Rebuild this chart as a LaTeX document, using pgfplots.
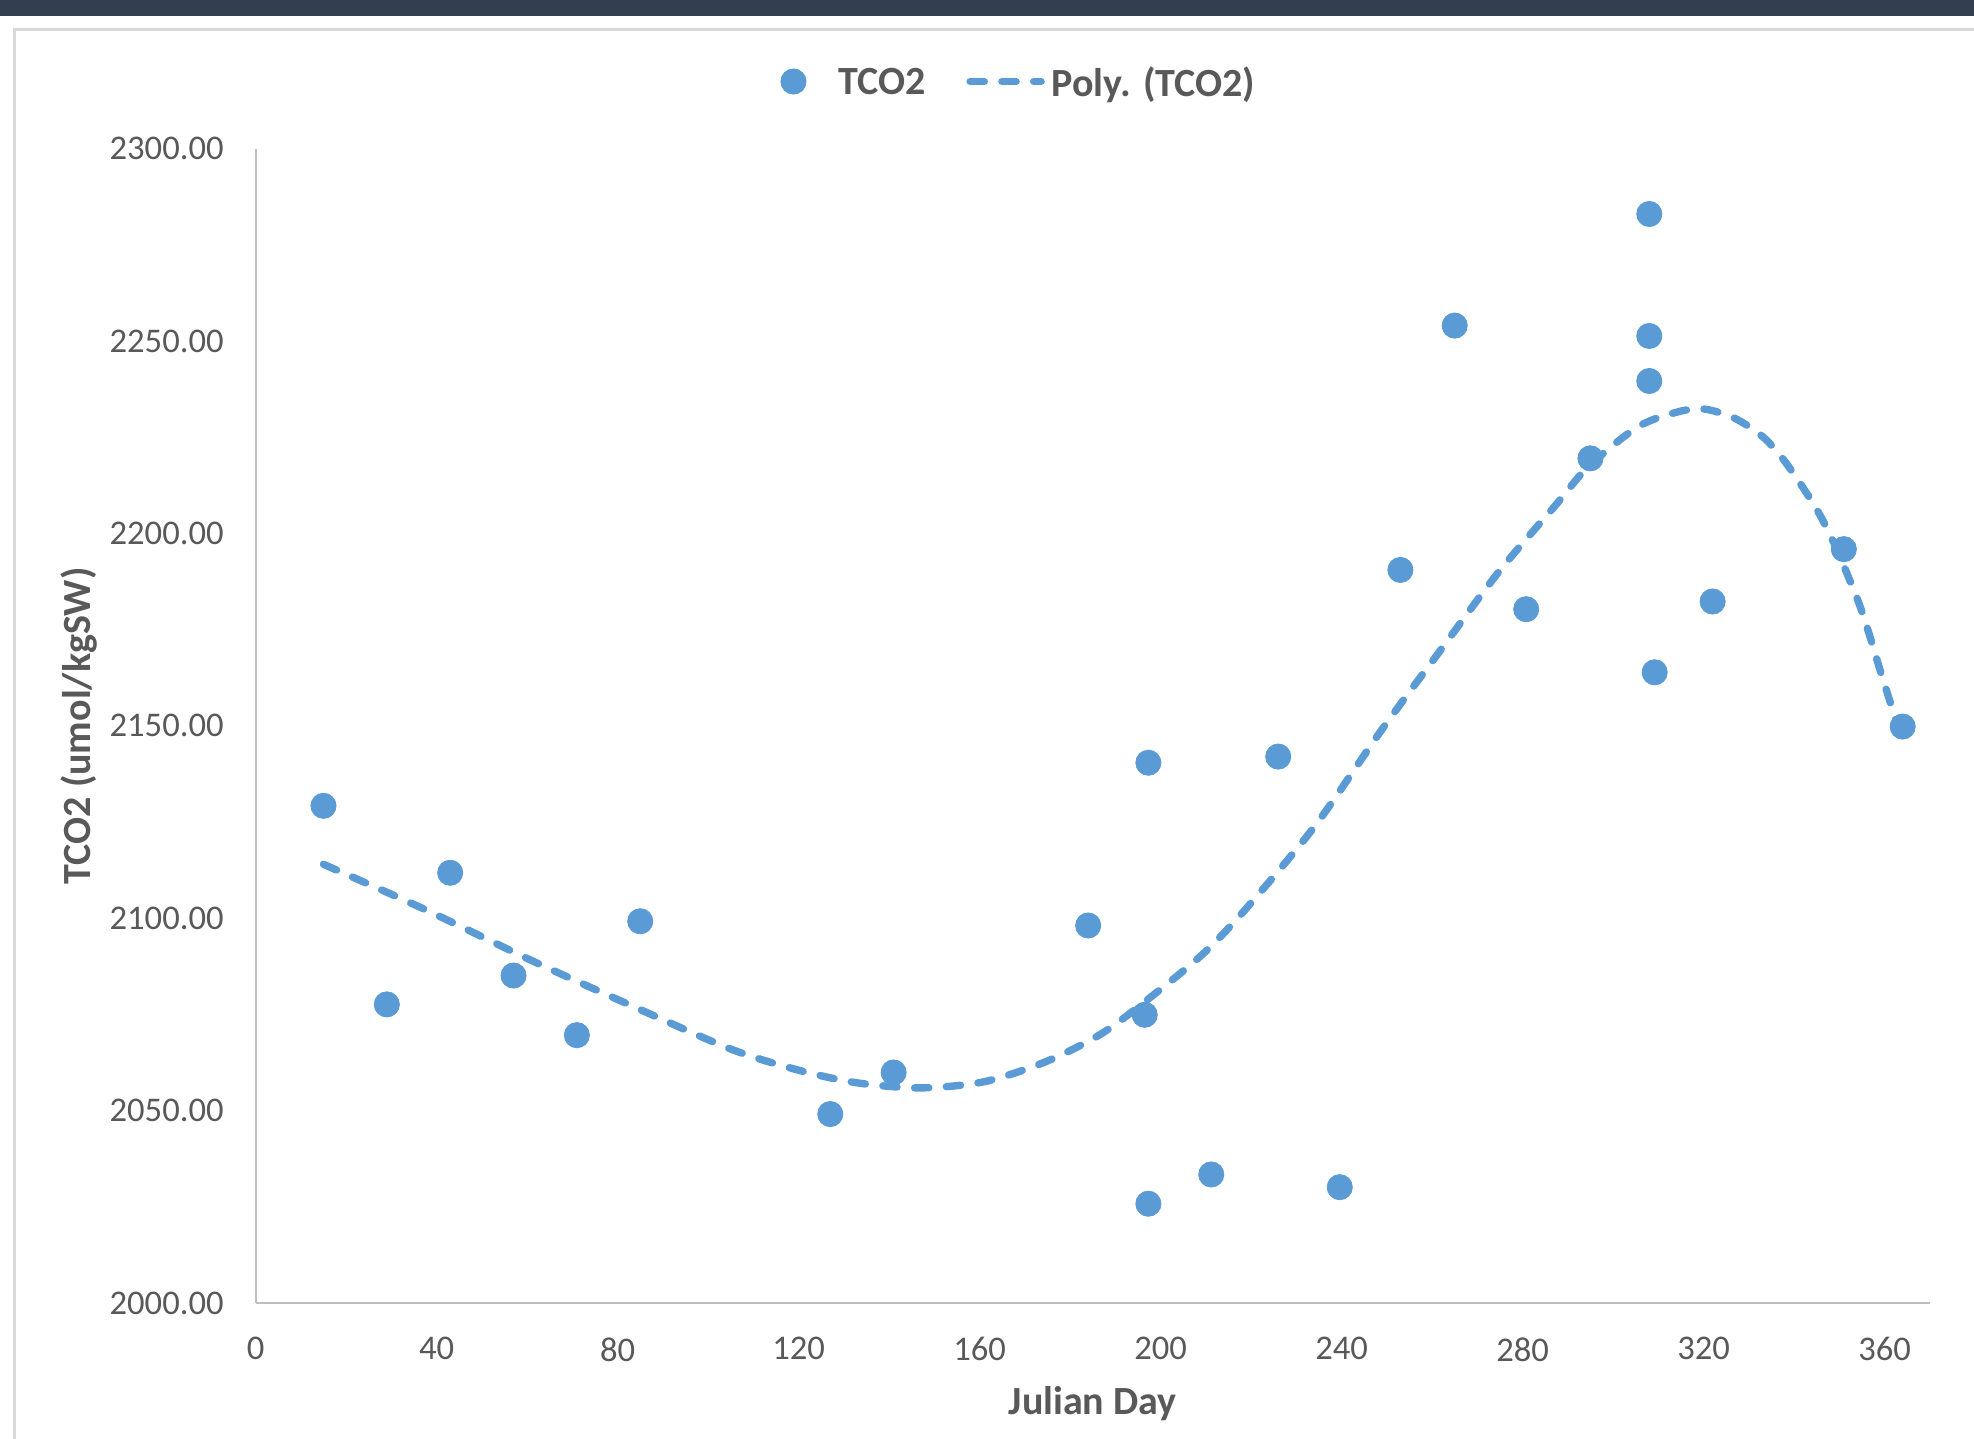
\documentclass[border=0pt]{standalone}
\usepackage{pgfplots}
\pgfplotsset{compat=1.18}
\usepackage{fontspec}
\setmainfont{Carlito}
\definecolor{bl}{HTML}{5B9BD5}
\definecolor{tx}{HTML}{595959}
\definecolor{ban}{HTML}{333E50}
\definecolor{axc}{HTML}{BFBFBF}
\definecolor{fr}{HTML}{D9D9D9}
\pgfplotsset{
  scatimg/.style={legend image code/.code={\path (-6.3pt,0pt) (6.3pt,0pt);\draw[#1] plot coordinates {(0pt,0.8pt)};}},
  lineimg/.style={legend image code/.code={\draw[#1] (0pt,0.8pt) -- (35.5pt,0.8pt);}},
}
\begin{document}
\begin{tikzpicture}
\useasboundingbox (0,0) rectangle (987pt,719.5pt);
\fill[white] (0,0) rectangle (987pt,719.5pt);
\fill[ban] (0,711.5pt) rectangle (987pt,719.5pt);
\draw[fr, line width=1.5pt] (7pt,-2pt) -- (7pt,704.5pt) -- (992pt,704.5pt);
\begin{axis}[
  at={(127.8pt,68pt)}, anchor=south west,
  scale only axis, width=837.1pt, height=577.2pt,
  xmin=0, xmax=370, ymin=2000, ymax=2300,
  xtick={0,40,...,360}, ytick={2000,2050,...,2300},
  axis x line*=bottom, axis y line*=left,
  axis line style={axc, line width=1pt, -},
  major tick length=0pt,
  /pgf/number format/assume math mode=true,
  tick label style={font=\fontsize{17.3}{20}\selectfont, text=tx},
  yticklabel style={/pgf/number format/fixed, /pgf/number format/fixed zerofill,
    /pgf/number format/precision=2, /pgf/number format/1000 sep={},
    anchor=east, inner sep=0pt, xshift=-15.8pt},
  xticklabel style={anchor=north, inner sep=0pt, yshift=-17pt},
  xlabel={Julian Day}, ylabel={TCO2 (umol/kgSW)},
  label style={font=\bfseries\fontsize{20}{24}\selectfont, text=tx, inner sep=0pt},
  xlabel style={at={(axis description cs:0.5,0)}, anchor=base, yshift=-56pt},
  ylabel style={at={(axis description cs:-0.0985,0.5)}, anchor=base},
  legend columns=2,
  legend cell align=left,
  legend style={draw=none, fill=none, at={(0.3135,1.0567)}, anchor=west,
    inner sep=0pt, outer sep=0pt, font=\bfseries\fontsize{20}{24}\selectfont, text=tx,
    nodes={inner sep=0pt}, column sep=0pt,
    /tikz/column 1/.style={column sep=16.2pt},
    /tikz/column 2/.style={column sep=20.2pt},
    /tikz/column 3/.style={column sep=3.5pt}},
]
\addplot[only marks, mark=*, mark size=6.3pt, color=bl, scatimg]
table {
x y
15 2129.2
29 2077.6
43 2111.8
57 2085.1
71 2069.6
85 2099.2
127 2049.1
141 2059.9
184 2098.1
196.5 2074.9
197.3 2140.4
197.3 2025.8
211.2 2033.4
226 2142.0
239.6 2030.1
253 2190.5
265 2254.0
280.8 2180.3
295 2219.5
308 2283.0
308 2251.3
308 2239.6
309.2 2163.9
322 2182.3
351 2195.9
364 2149.8
};
\addplot[bl, line width=3.7pt, dash pattern=on 7.1pt off 8.8pt, line cap=round, smooth, lineimg]
table {
x y
15 2114.0
37 2102.5
61 2089.0
83 2077.3
105 2066.0
120 2060.5
133 2057.2
147 2055.9
161 2057.5
174.6 2062.7
187.1 2070.1
198.9 2080.5
209.9 2091.3
219.5 2103.3
234.2 2124.1
248.9 2149.0
261.4 2168.9
274.6 2189.8
287.2 2207.2
294.5 2217.3
305.5 2227.7
314.4 2231.6
320.2 2232.3
326.9 2229.9
333.1 2225.1
337.7 2219.1
342.3 2211.3
345.7 2204.8
348.8 2197.5
352.0 2188.7
354.6 2181.0
356.9 2172.7
359.0 2164.5
361.2 2156.3
363.8 2146.3
};
\legend{TCO2, Poly. (TCO2)}
\end{axis}
\end{tikzpicture}
\end{document}
